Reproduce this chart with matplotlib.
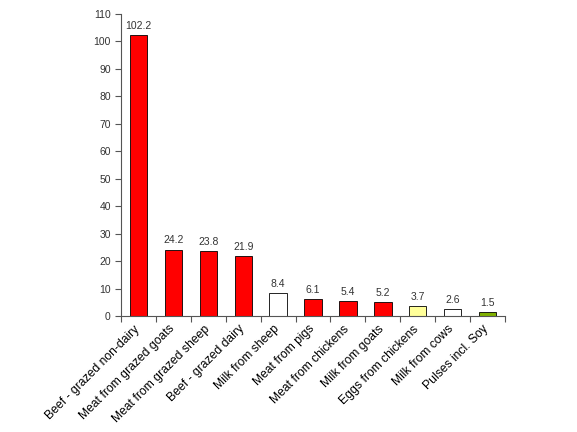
import numpy as np
import matplotlib.pyplot as plt
import matplotlib.transforms as mtransforms

plt.rcParams['font.family'] = ['Liberation Sans', 'DejaVu Sans']

categories = ['Beef - grazed non-dairy', 'Meat from grazed goats', 'Meat from grazed sheep',
              'Beef - grazed dairy', 'Milk from sheep', 'Meat from pigs', 'Meat from chickens',
              'Milk from goats', 'Eggs from chickens', 'Milk from cows', 'Pulses incl. Soy']
values = [102.2, 24.2, 23.8, 21.9, 8.4, 6.1, 5.4, 5.2, 3.7, 2.6, 1.5]
colors = ['#ff0000', '#ff0000', '#ff0000', '#ff0000', '#ffffff', '#ff0000', '#ff0000',
          '#ff0000', '#ffff99', '#ffffff', '#80b000']

fig = plt.figure(figsize=(5.77, 4.32), dpi=100)
ax = fig.add_axes([0.21, 0.2685, 0.665, 0.699])

x = np.arange(len(categories))
bars = ax.bar(x, values, width=0.5, color=colors, edgecolor='black', linewidth=0.6)
for xi, v in zip(x, values):
    ax.text(xi, v + 1.5, f'{v}', ha='center', va='bottom', fontsize=7.5, color='#333333')

ax.set_xlim(-0.5, len(categories) - 0.5)
ax.set_ylim(0, 110)
ax.set_yticks(range(0, 111, 10))
ax.set_xticks(x)
ax.set_xticklabels(categories, rotation=45, ha='right', rotation_mode='anchor', fontsize=8.7)
ax.set_xticks(np.arange(-0.5, len(categories), 1), minor=True)
ax.tick_params(axis='x', which='major', length=0, pad=5)
ax.tick_params(axis='x', which='minor', length=4, color='#555555', width=0.8)
ax.tick_params(axis='y', length=4, color='#555555', width=0.8, labelsize=7.5, labelcolor='#333333')

# nudge the rotated labels a bit to the left, like the original
shift = mtransforms.ScaledTranslation(-5 / 100, 0, fig.dpi_scale_trans)
for lab in ax.get_xticklabels():
    lab.set_transform(lab.get_transform() + shift)

for s in ['top', 'right']:
    ax.spines[s].set_visible(False)
for s in ['left', 'bottom']:
    ax.spines[s].set_color('#555555')
    ax.spines[s].set_linewidth(0.8)

fig.savefig('out.png', dpi=100)
